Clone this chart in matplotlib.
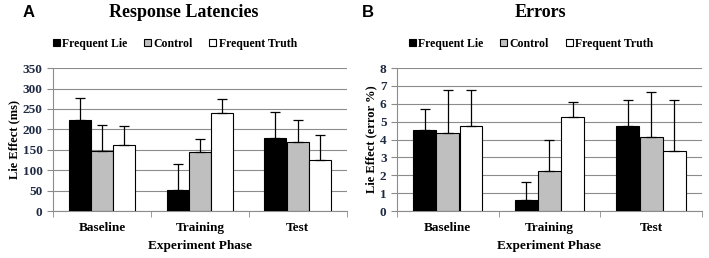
import matplotlib
matplotlib.use('Agg')
import matplotlib.pyplot as plt
import numpy as np

phases = ['Baseline', 'Training', 'Test']
groups = ['Frequent Lie', 'Control', 'Frequent Truth']
group_colors = ['#000000', '#bfbfbf', '#ffffff']

# response latencies (ms): means and upper error
latency_means = {
    'Frequent Lie': [223, 52, 179],
    'Control': [148, 145, 170],
    'Frequent Truth': [162, 240, 126],
}
latency_errors = {
    'Frequent Lie': [55, 64, 63],
    'Control': [62, 32, 52],
    'Frequent Truth': [46, 35, 60],
}

# errors (%): means and upper error
error_means = {
    'Frequent Lie': [4.55, 0.6, 4.75],
    'Control': [4.35, 2.25, 4.15],
    'Frequent Truth': [4.75, 5.25, 3.35],
}
error_errors = {
    'Frequent Lie': [1.15, 1.0, 1.45],
    'Control': [2.45, 1.75, 2.5],
    'Frequent Truth': [2.05, 0.85, 2.85],
}

plt.rcParams['font.family'] = ['Liberation Serif', 'DejaVu Serif']
plt.rcParams['font.weight'] = 'bold'

fig = plt.figure(figsize=(7.09, 2.58), dpi=100)
ax_a = fig.add_axes([0.0748, 0.182, 0.4142, 0.554])
ax_b = fig.add_axes([0.560, 0.182, 0.430, 0.554])


def draw_panel(ax, means, errors, ymax, ystep, ylabel, title, letter,
               title_x, legend_x, letter_x):
    x = np.arange(len(phases))
    width = 0.225
    for i, (name, color) in enumerate(zip(groups, group_colors)):
        pos = x + (i - 1) * (width + 0.003)
        ax.bar(pos, means[name], width, color=color, edgecolor='black',
               linewidth=0.8, label=name, zorder=3)
        ax.errorbar(pos, means[name], yerr=[np.zeros(3), errors[name]],
                    fmt='none', ecolor='black', elinewidth=0.9,
                    capsize=3.5, capthick=0.9, zorder=4)
    ax.set_xlim(-0.5, 2.5)
    ax.set_ylim(0, ymax)
    ax.set_yticks(np.arange(0, ymax + ystep / 2, ystep))
    ax.yaxis.grid(True, color='#8c8c8c', linewidth=0.8, zorder=0)
    ax.set_axisbelow(True)
    ax.set_xticks(x)
    ax.set_xticklabels(phases)
    ax.set_xticks([-0.5, 0.5, 1.5, 2.5], minor=True)
    ax.tick_params(axis='x', which='major', length=0, pad=8, labelsize=9.5)
    ax.tick_params(axis='x', which='minor', length=4, color='#8c8c8c',
                   direction='out')
    ax.tick_params(axis='y', length=4, color='#8c8c8c', labelsize=9.5,
                   labelcolor='#1f2a44')
    for side in ('top', 'right'):
        ax.spines[side].set_visible(False)
    for side in ('left', 'bottom'):
        ax.spines[side].set_color('#8c8c8c')
    ax.set_xlabel('Experiment Phase', fontsize=9.5, fontweight='bold', labelpad=4)
    ax.set_ylabel(ylabel, fontsize=9, fontweight='bold', labelpad=2)
    ax.set_title(title, fontsize=13, fontweight='bold', pad=37, x=title_x)
    ax.legend(loc='lower center', bbox_to_anchor=(legend_x, 1.095), ncol=3,
              frameon=False, fontsize=8.5, handlelength=0.6, handleheight=0.6,
              handletextpad=0.2, columnspacing=1.4, borderaxespad=0)
    ax.text(letter_x, 1.39, letter, transform=ax.transAxes, fontsize=12,
            fontweight='bold', family='Liberation Sans', va='center')


draw_panel(ax_a, latency_means, latency_errors, 350, 50,
           'Lie Effect (ms)', 'Response Latencies', 'A', 0.446, 0.415, -0.105)
draw_panel(ax_b, error_means, error_errors, 8, 1,
           'Lie Effect (error %)', 'Errors', 'B', 0.469, 0.44, -0.115)

fig.savefig('out.png', dpi=100)
